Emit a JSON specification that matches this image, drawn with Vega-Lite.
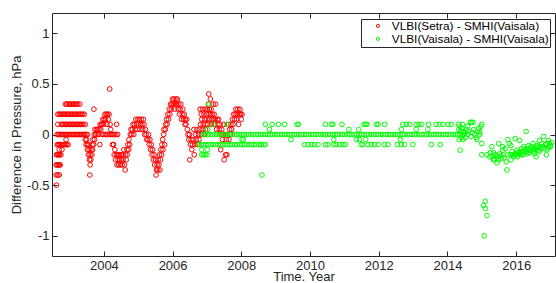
{
"$schema":"https://vega.github.io/schema/vega-lite/v6.json",
"width":503,"height":243,
"autosize":{"type":"none"},
"padding":{"left":52,"top":13,"right":1,"bottom":27},
"background":"white",
"config":{"font":"Liberation Sans","view":{"stroke":null},
"axis":{"grid":false,"domainColor":"#262626","tickColor":"#262626","labelColor":"#262626","titleColor":"#262626","labelFontSize":13,"titleFontSize":13,"titleFontWeight":"normal","tickSize":-5,"domainWidth":1,"tickWidth":1}},
"datasets":{
"setra":[
{"x":2002.62,"y":-0.5},{"x":2002.61,"y":-0.4},{"x":2002.66,"y":-0.4},{"x":2002.70,"y":-0.4},
{"x":2002.61,"y":-0.3},{"x":2002.64,"y":-0.3},{"x":2002.67,"y":-0.3},{"x":2002.70,"y":-0.3},{"x":2002.73,"y":-0.3},
{"x":2002.62,"y":-0.2},{"x":2002.65,"y":-0.2},{"x":2002.68,"y":-0.2},{"x":2002.71,"y":-0.2},{"x":2002.75,"y":-0.2},
{"x":2002.70,"y":-0.15},{"x":2002.78,"y":-0.15},
{"x":2002.64,"y":-0.1},{"x":2002.67,"y":-0.1},{"x":2002.70,"y":-0.1},{"x":2002.73,"y":-0.1},{"x":2002.77,"y":-0.1},{"x":2002.80,"y":-0.1},{"x":2002.84,"y":-0.1},{"x":2002.88,"y":-0.1},{"x":2002.92,"y":-0.1},{"x":2002.96,"y":-0.1},
{"x":2002.90,"y":-0.05},{"x":2002.66,"y":0.1},{"x":2002.66,"y":0.2},{"x":2002.70,"y":0.2},
{"x":2002.88,"y":0.3},{"x":2002.92,"y":0.3},{"x":2002.96,"y":0.3},{"x":2003.00,"y":0.3},{"x":2003.04,"y":0.3},{"x":2003.08,"y":0.3},{"x":2003.12,"y":0.3},{"x":2003.16,"y":0.3},{"x":2003.20,"y":0.3},{"x":2003.24,"y":0.3},{"x":2003.30,"y":0.3},
{"x":2002.74,"y":0.2},{"x":2002.78,"y":0.2},{"x":2002.82,"y":0.2},{"x":2002.86,"y":0.2},{"x":2002.90,"y":0.2},{"x":2002.94,"y":0.2},{"x":2002.98,"y":0.2},{"x":2003.02,"y":0.2},{"x":2003.06,"y":0.2},{"x":2003.10,"y":0.2},{"x":2003.14,"y":0.2},{"x":2003.18,"y":0.2},{"x":2003.22,"y":0.2},{"x":2003.26,"y":0.2},{"x":2003.30,"y":0.2},{"x":2003.34,"y":0.2},{"x":2003.38,"y":0.2},{"x":2003.43,"y":0.2},
{"x":2002.76,"y":0.1},{"x":2002.80,"y":0.1},{"x":2002.84,"y":0.1},{"x":2002.88,"y":0.1},{"x":2002.92,"y":0.1},{"x":2002.96,"y":0.1},{"x":2003.00,"y":0.1},{"x":2003.04,"y":0.1},{"x":2003.08,"y":0.1},{"x":2003.12,"y":0.1},{"x":2003.16,"y":0.1},{"x":2003.20,"y":0.1},{"x":2003.24,"y":0.1},{"x":2003.28,"y":0.1},{"x":2003.32,"y":0.1},{"x":2003.36,"y":0.1},{"x":2003.40,"y":0.1},{"x":2003.46,"y":0.1},
{"x":2002.64,"y":0},{"x":2002.68,"y":0},{"x":2002.72,"y":0},{"x":2002.76,"y":0},{"x":2002.80,"y":0},{"x":2002.84,"y":0},{"x":2002.88,"y":0},{"x":2002.92,"y":0},{"x":2002.96,"y":0},{"x":2003.00,"y":0},{"x":2003.04,"y":0},{"x":2003.08,"y":0},{"x":2003.12,"y":0},{"x":2003.16,"y":0},{"x":2003.20,"y":0},{"x":2003.24,"y":0},{"x":2003.28,"y":0},{"x":2003.32,"y":0},{"x":2003.36,"y":0},{"x":2003.40,"y":0},{"x":2003.44,"y":0},{"x":2003.48,"y":0},{"x":2003.52,"y":0},
{"x":2003.46,"y":-0.05},{"x":2003.48,"y":-0.1},{"x":2003.50,"y":-0.05},{"x":2003.52,"y":-0.1},{"x":2003.52,"y":-0.15},{"x":2003.55,"y":-0.1},{"x":2003.55,"y":-0.2},{"x":2003.57,"y":-0.15},{"x":2003.58,"y":-0.25},{"x":2003.60,"y":-0.2},{"x":2003.60,"y":-0.3},{"x":2003.62,"y":-0.25},{"x":2003.59,"y":-0.4},{"x":2003.63,"y":-0.15},{"x":2003.65,"y":-0.2},{"x":2003.66,"y":-0.1},{"x":2003.67,"y":-0.15},{"x":2003.68,"y":-0.05},{"x":2003.70,"y":-0.1},{"x":2003.71,"y":0.25},{"x":2003.72,"y":0},{"x":2003.73,"y":-0.05},{"x":2003.74,"y":0.05},{"x":2003.76,"y":0},{"x":2003.78,"y":0.05},{"x":2003.80,"y":0},
{"x":2003.82,"y":0.05},{"x":2003.84,"y":0},{"x":2003.86,"y":0.05},{"x":2003.88,"y":-0.1},{"x":2003.89,"y":0.1},{"x":2003.91,"y":0.05},{"x":2003.93,"y":0.1},{"x":2003.95,"y":0.1},{"x":2003.97,"y":0.15},{"x":2003.99,"y":0.1},{"x":2004.01,"y":0.15},{"x":2004.03,"y":0.2},{"x":2004.05,"y":0.15},{"x":2004.07,"y":0.2},{"x":2004.09,"y":0.1},{"x":2004.11,"y":0.2},{"x":2004.13,"y":0.15},{"x":2004.15,"y":0.2},{"x":2004.17,"y":0.45},{"x":2004.18,"y":0.1},{"x":2004.20,"y":0.05},
{"x":2003.95,"y":0},{"x":2004.00,"y":0},{"x":2004.05,"y":0},{"x":2004.10,"y":0},{"x":2004.15,"y":0},{"x":2004.20,"y":0},{"x":2004.25,"y":0},{"x":2004.30,"y":0},{"x":2004.35,"y":0},{"x":2004.40,"y":0},
{"x":2004.25,"y":-0.1},{"x":2004.28,"y":-0.1},{"x":2004.30,"y":-0.2},{"x":2004.32,"y":-0.15},{"x":2004.34,"y":-0.25},{"x":2004.36,"y":-0.2},{"x":2004.37,"y":0.1},{"x":2004.38,"y":-0.3},{"x":2004.40,"y":-0.2},{"x":2004.41,"y":-0.25},{"x":2004.43,"y":-0.3},{"x":2004.45,"y":-0.2},{"x":2004.46,"y":-0.25},{"x":2004.48,"y":-0.3},{"x":2004.50,"y":-0.2},{"x":2004.51,"y":-0.25},{"x":2004.53,"y":-0.3},{"x":2004.55,"y":-0.2},{"x":2004.56,"y":-0.25},{"x":2004.58,"y":-0.15},{"x":2004.60,"y":-0.3},{"x":2004.62,"y":-0.35},{"x":2004.63,"y":-0.2},{"x":2004.65,"y":-0.25},{"x":2004.67,"y":-0.15},{"x":2004.68,"y":-0.2},{"x":2004.70,"y":-0.1},{"x":2004.72,"y":-0.15},{"x":2004.73,"y":-0.05},{"x":2004.75,"y":-0.1},{"x":2004.77,"y":0},
{"x":2004.79,"y":0.05},{"x":2004.81,"y":0},{"x":2004.83,"y":0.05},{"x":2004.85,"y":0.1},{"x":2004.87,"y":0},{"x":2004.89,"y":0.1},{"x":2004.91,"y":0.05},{"x":2004.93,"y":0.15},{"x":2004.95,"y":0.1},{"x":2004.97,"y":0.05},{"x":2004.99,"y":0.15},{"x":2005.01,"y":0.1},{"x":2005.03,"y":0.15},{"x":2005.05,"y":0.05},{"x":2005.07,"y":0.1},{"x":2005.09,"y":0.15},{"x":2005.11,"y":0.1},{"x":2005.13,"y":0.05},{"x":2005.15,"y":0.15},{"x":2005.17,"y":0.1},{"x":2005.19,"y":0},{"x":2005.21,"y":0.05},{"x":2005.23,"y":0},{"x":2005.25,"y":-0.05},
{"x":2005.28,"y":-0.05},{"x":2005.30,"y":0},{"x":2005.32,"y":-0.1},{"x":2005.34,"y":-0.05},{"x":2005.36,"y":-0.15},{"x":2005.38,"y":-0.1},{"x":2005.40,"y":-0.2},{"x":2005.42,"y":-0.15},{"x":2005.44,"y":-0.25},{"x":2005.46,"y":-0.2},{"x":2005.48,"y":-0.3},{"x":2005.50,"y":-0.25},{"x":2005.52,"y":-0.4},{"x":2005.53,"y":-0.35},{"x":2005.55,"y":-0.3},{"x":2005.57,"y":-0.35},{"x":2005.58,"y":-0.25},{"x":2005.60,"y":-0.3},{"x":2005.62,"y":-0.2},{"x":2005.63,"y":-0.35},{"x":2005.65,"y":-0.25},{"x":2005.66,"y":-0.15},{"x":2005.68,"y":-0.2},{"x":2005.69,"y":-0.1},{"x":2005.71,"y":-0.05},{"x":2005.72,"y":-0.15},{"x":2005.74,"y":0},{"x":2005.75,"y":0.05},{"x":2005.77,"y":-0.1},
{"x":2005.79,"y":0.05},{"x":2005.80,"y":0.1},{"x":2005.82,"y":0.15},{"x":2005.84,"y":0.1},{"x":2005.86,"y":0.2},{"x":2005.88,"y":0.15},{"x":2005.90,"y":0.25},{"x":2005.92,"y":0.2},{"x":2005.94,"y":0.3},{"x":2005.96,"y":0.25},{"x":2005.98,"y":0.3},{"x":2006.00,"y":0.35},{"x":2006.02,"y":0.3},{"x":2006.04,"y":0.35},{"x":2006.06,"y":0.25},{"x":2006.08,"y":0.3},{"x":2006.10,"y":0.35},{"x":2006.12,"y":0.3},{"x":2006.14,"y":0.35},{"x":2006.16,"y":0.25},{"x":2006.18,"y":0.3},{"x":2006.20,"y":0.2},{"x":2006.22,"y":0.25},{"x":2006.24,"y":0.3},{"x":2006.26,"y":0.15},{"x":2006.28,"y":0.2},{"x":2006.30,"y":0.25},{"x":2006.32,"y":0.15},{"x":2006.34,"y":0.2},{"x":2006.36,"y":0.1},
{"x":2006.37,"y":0.15},{"x":2006.39,"y":0.1},{"x":2006.41,"y":0.15},{"x":2006.43,"y":0.05},{"x":2006.45,"y":0},{"x":2006.47,"y":-0.05},{"x":2006.49,"y":0},{"x":2006.50,"y":-0.25},{"x":2006.52,"y":-0.1},{"x":2006.54,"y":-0.05},{"x":2006.56,"y":-0.15},{"x":2006.58,"y":-0.1},{"x":2006.60,"y":-0.05},{"x":2006.62,"y":0.05},{"x":2006.63,"y":-0.2},{"x":2006.65,"y":-0.1},{"x":2006.67,"y":0},{"x":2006.69,"y":-0.05},{"x":2006.71,"y":0.05},{"x":2006.73,"y":-0.1},{"x":2006.75,"y":0},{"x":2006.77,"y":-0.05},
{"x":2006.79,"y":0.05},{"x":2006.80,"y":0.25},{"x":2006.81,"y":0.1},{"x":2006.83,"y":0.2},{"x":2006.84,"y":0},{"x":2006.85,"y":0.15},{"x":2006.87,"y":0.25},{"x":2006.88,"y":0.05},{"x":2006.89,"y":0.1},{"x":2006.91,"y":0.2},{"x":2006.92,"y":0},{"x":2006.93,"y":0.15},{"x":2006.95,"y":0.25},{"x":2006.96,"y":0.05},{"x":2006.97,"y":0.1},{"x":2006.99,"y":0.2},{"x":2007.00,"y":0.15},{"x":2007.01,"y":0.25},{"x":2007.03,"y":0.1},{"x":2007.04,"y":0.3},{"x":2007.05,"y":0.4},{"x":2007.06,"y":0.2},{"x":2007.07,"y":0.25},{"x":2007.08,"y":0.15},{"x":2007.10,"y":0.35},{"x":2007.11,"y":0.2},{"x":2007.12,"y":0.25},{"x":2007.13,"y":0.1},{"x":2007.15,"y":0.15},{"x":2007.16,"y":0.2},{"x":2007.18,"y":0.3},{"x":2007.19,"y":0.15},{"x":2007.21,"y":0.2},{"x":2007.22,"y":0.1},{"x":2007.24,"y":0.15},{"x":2007.25,"y":0.3},
{"x":2007.28,"y":0.05},{"x":2007.30,"y":0.15},{"x":2007.32,"y":0.1},{"x":2007.34,"y":0.15},{"x":2007.36,"y":0.05},{"x":2007.38,"y":0.1},{"x":2007.40,"y":-0.15},{"x":2007.41,"y":0},{"x":2007.43,"y":0.05},{"x":2007.45,"y":-0.05},{"x":2007.47,"y":0},{"x":2007.49,"y":0.1},{"x":2007.50,"y":-0.25},{"x":2007.52,"y":0},{"x":2007.54,"y":-0.2},{"x":2007.56,"y":-0.05},{"x":2007.58,"y":-0.2},{"x":2007.60,"y":0},{"x":2007.62,"y":0.1},{"x":2007.64,"y":-0.05},{"x":2007.66,"y":0.05},{"x":2007.68,"y":0},{"x":2007.70,"y":0.1},{"x":2007.72,"y":0.05},{"x":2007.74,"y":0.15},{"x":2007.76,"y":0.1},{"x":2007.78,"y":0.2},{"x":2007.80,"y":0.15},{"x":2007.82,"y":0.2},{"x":2007.84,"y":0.25},{"x":2007.86,"y":0.15},{"x":2007.88,"y":0.2},{"x":2007.90,"y":0.25},{"x":2007.92,"y":0.1},{"x":2007.94,"y":0.2},{"x":2007.96,"y":0.25},{"x":2007.98,"y":0.2},{"x":2008.00,"y":0.15},{"x":2008.02,"y":0.2}
],
"vaisala":[
{"x":2006.88,"y":0},{"x":2006.95,"y":0},{"x":2007.02,"y":0},{"x":2007.09,"y":0},{"x":2007.16,"y":0},{"x":2007.23,"y":0},{"x":2007.30,"y":0},{"x":2007.37,"y":0},{"x":2007.44,"y":0},{"x":2007.51,"y":0},{"x":2007.58,"y":0},{"x":2007.65,"y":0},{"x":2007.72,"y":0},{"x":2007.79,"y":0},{"x":2007.86,"y":0},{"x":2007.93,"y":0},{"x":2008.00,"y":0},{"x":2008.07,"y":0},{"x":2008.14,"y":0},{"x":2008.21,"y":0},{"x":2008.28,"y":0},{"x":2008.35,"y":0},{"x":2008.42,"y":0},{"x":2008.49,"y":0},{"x":2008.56,"y":0},{"x":2008.63,"y":0},{"x":2008.70,"y":0},{"x":2008.77,"y":0},{"x":2008.84,"y":0},{"x":2008.91,"y":0},{"x":2008.98,"y":0},{"x":2009.05,"y":0},{"x":2009.12,"y":0},{"x":2009.19,"y":0},{"x":2009.26,"y":0},{"x":2009.33,"y":0},{"x":2009.40,"y":0},{"x":2009.47,"y":0},{"x":2009.54,"y":0},{"x":2009.61,"y":0},{"x":2009.68,"y":0},{"x":2009.75,"y":0},{"x":2009.82,"y":0},{"x":2009.89,"y":0},{"x":2009.96,"y":0},{"x":2010.03,"y":0},{"x":2010.10,"y":0},{"x":2010.17,"y":0},{"x":2010.24,"y":0},{"x":2010.31,"y":0},{"x":2010.38,"y":0},{"x":2010.45,"y":0},{"x":2010.52,"y":0},{"x":2010.59,"y":0},{"x":2010.66,"y":0},{"x":2010.73,"y":0},{"x":2010.80,"y":0},{"x":2010.87,"y":0},{"x":2010.94,"y":0},{"x":2011.01,"y":0},{"x":2011.08,"y":0},{"x":2011.15,"y":0},{"x":2011.22,"y":0},{"x":2011.29,"y":0},{"x":2011.36,"y":0},{"x":2011.43,"y":0},{"x":2011.50,"y":0},{"x":2011.57,"y":0},{"x":2011.64,"y":0},{"x":2011.71,"y":0},{"x":2011.78,"y":0},{"x":2011.85,"y":0},{"x":2011.92,"y":0},{"x":2011.99,"y":0},{"x":2012.06,"y":0},{"x":2012.13,"y":0},{"x":2012.20,"y":0},{"x":2012.27,"y":0},{"x":2012.34,"y":0},{"x":2012.41,"y":0},{"x":2012.48,"y":0},{"x":2012.55,"y":0},{"x":2012.62,"y":0},{"x":2012.69,"y":0},{"x":2012.76,"y":0},{"x":2012.83,"y":0},{"x":2012.90,"y":0},{"x":2012.97,"y":0},{"x":2013.04,"y":0},{"x":2013.11,"y":0},{"x":2013.18,"y":0},{"x":2013.25,"y":0},{"x":2013.32,"y":0},{"x":2013.39,"y":0},{"x":2013.46,"y":0},{"x":2013.53,"y":0},{"x":2013.60,"y":0},{"x":2013.67,"y":0},{"x":2013.74,"y":0},{"x":2013.81,"y":0},{"x":2013.88,"y":0},{"x":2013.95,"y":0},{"x":2014.02,"y":0},{"x":2014.09,"y":0},{"x":2014.16,"y":0},{"x":2014.23,"y":0},{"x":2014.30,"y":0},{"x":2014.37,"y":0},{"x":2014.44,"y":0},
{"x":2006.76,"y":-0.1},{"x":2006.83,"y":-0.1},{"x":2006.90,"y":-0.1},{"x":2006.97,"y":-0.1},{"x":2007.04,"y":-0.1},{"x":2007.11,"y":-0.1},{"x":2007.18,"y":-0.1},{"x":2007.25,"y":-0.1},{"x":2007.32,"y":-0.1},{"x":2007.39,"y":-0.1},{"x":2007.46,"y":-0.1},{"x":2007.53,"y":-0.1},{"x":2007.60,"y":-0.1},{"x":2007.67,"y":-0.1},{"x":2007.74,"y":-0.1},{"x":2007.81,"y":-0.1},{"x":2007.88,"y":-0.1},{"x":2007.95,"y":-0.1},{"x":2008.02,"y":-0.1},{"x":2008.09,"y":-0.1},{"x":2008.16,"y":-0.1},{"x":2008.23,"y":-0.1},{"x":2008.30,"y":-0.1},{"x":2008.37,"y":-0.1},{"x":2008.44,"y":-0.1},{"x":2008.51,"y":-0.1},{"x":2008.58,"y":-0.1},{"x":2008.65,"y":-0.1},{"x":2008.70,"y":-0.1},
{"x":2006.85,"y":-0.2},{"x":2006.90,"y":-0.2},{"x":2006.95,"y":-0.2},{"x":2007.00,"y":-0.2},{"x":2006.85,"y":-0.15},{"x":2007.01,"y":-0.15},{"x":2007.06,"y":0.3},{"x":2007.02,"y":0.05},{"x":2007.19,"y":0.1},{"x":2007.58,"y":0.1},{"x":2008.02,"y":-0.05},{"x":2008.06,"y":-0.05},{"x":2008.60,"y":-0.4},{"x":2008.70,"y":0.1},{"x":2008.82,"y":0.05},{"x":2008.90,"y":0.1},{"x":2009.08,"y":0.1},
{"x":2009.26,"y":0.1},{"x":2009.62,"y":0.1},{"x":2009.66,"y":0.1},{"x":2010.45,"y":0.1},{"x":2010.62,"y":0.1},{"x":2010.67,"y":0.1},{"x":2010.93,"y":0.1},{"x":2011.57,"y":0.1},{"x":2011.62,"y":0.1},{"x":2011.66,"y":0.1},{"x":2011.93,"y":0.1},{"x":2011.98,"y":0.1},{"x":2012.17,"y":0.1},{"x":2012.70,"y":0.1},{"x":2012.80,"y":0.1},{"x":2012.90,"y":0.1},{"x":2013.09,"y":0.1},{"x":2013.17,"y":0.1},{"x":2013.25,"y":0.1},{"x":2013.45,"y":0.1},{"x":2013.67,"y":0.1},{"x":2013.77,"y":0.1},{"x":2013.87,"y":0.1},{"x":2014.02,"y":0.1},{"x":2014.11,"y":0.1},
{"x":2011.13,"y":0.05},{"x":2011.42,"y":0.05},{"x":2012.66,"y":0.05},{"x":2013.09,"y":0.05},{"x":2013.43,"y":0.05},
{"x":2009.45,"y":-0.05},{"x":2010.69,"y":-0.05},{"x":2011.35,"y":-0.05},{"x":2011.44,"y":-0.05},{"x":2011.62,"y":-0.05},{"x":2012.63,"y":-0.05},
{"x":2009.84,"y":-0.1},{"x":2009.94,"y":-0.1},{"x":2010.04,"y":-0.1},{"x":2010.13,"y":-0.1},{"x":2010.23,"y":-0.1},{"x":2010.45,"y":-0.1},{"x":2010.52,"y":-0.1},{"x":2010.69,"y":-0.1},{"x":2010.76,"y":-0.1},{"x":2010.86,"y":-0.1},{"x":2010.96,"y":-0.1},{"x":2011.03,"y":-0.1},{"x":2011.49,"y":-0.1},{"x":2011.54,"y":-0.1},{"x":2011.69,"y":-0.1},{"x":2011.78,"y":-0.1},{"x":2011.88,"y":-0.1},{"x":2011.98,"y":-0.1},{"x":2012.17,"y":-0.1},{"x":2012.27,"y":-0.1},{"x":2012.54,"y":-0.1},{"x":2012.66,"y":-0.1},{"x":2012.75,"y":-0.1},{"x":2012.99,"y":-0.1},{"x":2013.53,"y":-0.1},{"x":2013.79,"y":-0.1},
{"x":2014.32,"y":0.1},{"x":2014.33,"y":0.05},{"x":2014.34,"y":-0.05},{"x":2014.36,"y":0.08},{"x":2014.37,"y":-0.155},{"x":2014.38,"y":0.03},{"x":2014.40,"y":-0.03},{"x":2014.42,"y":0.06},{"x":2014.44,"y":0.1},{"x":2014.45,"y":-0.05},{"x":2014.46,"y":0.03},{"x":2014.48,"y":0},
{"x":2014.50,"y":0.02},{"x":2014.52,"y":-0.03},{"x":2014.55,"y":0.05},{"x":2014.58,"y":0.08},{"x":2014.60,"y":0},{"x":2014.62,"y":0.03},{"x":2014.66,"y":0.12},{"x":2014.70,"y":0.12},{"x":2014.74,"y":0.12},{"x":2014.68,"y":-0.02},{"x":2014.72,"y":0.02},{"x":2014.76,"y":0.05},{"x":2014.80,"y":0},{"x":2014.84,"y":-0.03},{"x":2014.86,"y":-0.05},{"x":2014.88,"y":0.03},{"x":2014.90,"y":0.06},{"x":2014.93,"y":0},{"x":2014.95,"y":0.02},{"x":2014.97,"y":0.08},{"x":2015.00,"y":0.1},{"x":2015.00,"y":-0.09},{"x":2015.00,"y":-0.2},
{"x":2015.10,"y":-0.66},{"x":2015.05,"y":-0.7},{"x":2015.10,"y":-0.73},{"x":2015.15,"y":-0.8},{"x":2015.07,"y":-1.0},
{"x":2015.15,"y":-0.2},{"x":2015.25,"y":-0.18},{"x":2015.29,"y":-0.12},{"x":2015.23,"y":-0.22},{"x":2015.34,"y":-0.18},{"x":2015.34,"y":-0.25},{"x":2015.39,"y":-0.2},{"x":2015.44,"y":-0.28},{"x":2015.46,"y":-0.22},{"x":2015.49,"y":-0.09},{"x":2015.52,"y":-0.19},{"x":2015.56,"y":-0.24},{"x":2015.60,"y":-0.12},{"x":2015.61,"y":-0.155},{"x":2015.63,"y":-0.2},{"x":2015.68,"y":-0.14},{"x":2015.71,"y":-0.27},{"x":2015.73,"y":-0.35},{"x":2015.76,"y":-0.05},{"x":2015.80,"y":-0.09},{"x":2015.85,"y":-0.11},{"x":2015.83,"y":-0.2},{"x":2015.88,"y":-0.17},{"x":2015.92,"y":-0.22},{"x":2015.97,"y":-0.04},{"x":2015.97,"y":-0.19},{"x":2016.02,"y":-0.155},{"x":2016.04,"y":-0.22},{"x":2016.10,"y":-0.06},{"x":2016.12,"y":-0.17},{"x":2016.15,"y":-0.14},{"x":2016.17,"y":-0.2},{"x":2016.22,"y":-0.12},{"x":2016.24,"y":-0.17},{"x":2016.29,"y":0.03},{"x":2016.29,"y":-0.14},{"x":2016.33,"y":-0.19},{"x":2016.36,"y":-0.11},{"x":2016.41,"y":-0.155},{"x":2016.43,"y":-0.12},{"x":2016.49,"y":-0.09},{"x":2016.51,"y":-0.17},{"x":2016.55,"y":-0.12},{"x":2016.58,"y":-0.22},{"x":2016.60,"y":-0.11},{"x":2016.65,"y":-0.155},{"x":2016.68,"y":-0.06},{"x":2016.70,"y":-0.12},{"x":2016.75,"y":-0.09},{"x":2016.80,"y":-0.02},{"x":2016.82,"y":-0.14},{"x":2016.88,"y":-0.2},{"x":2016.89,"y":-0.09},{"x":2016.94,"y":-0.06},{"x":2016.94,"y":-0.13},{"x":2016.99,"y":-0.11},
{"x":2015.95,"y":-0.2},{"x":2016.00,"y":-0.2},{"x":2016.05,"y":-0.18},{"x":2016.08,"y":-0.2},{"x":2016.13,"y":-0.19},{"x":2016.18,"y":-0.17},{"x":2016.20,"y":-0.2},{"x":2016.26,"y":-0.15},{"x":2016.30,"y":-0.17},{"x":2016.35,"y":-0.15},{"x":2016.38,"y":-0.18},{"x":2016.45,"y":-0.13},{"x":2016.50,"y":-0.14},{"x":2016.53,"y":-0.19},{"x":2016.57,"y":-0.15},{"x":2016.62,"y":-0.13},{"x":2016.67,"y":-0.17},{"x":2016.72,"y":-0.14},{"x":2016.77,"y":-0.12},{"x":2016.85,"y":-0.1},{"x":2016.90,"y":-0.15},{"x":2016.97,"y":-0.09},{"x":2017.00,"y":-0.12},{"x":2017.03,"y":-0.08},{"x":2015.30,"y":-0.22},{"x":2015.36,"y":-0.24},{"x":2015.42,"y":-0.21},{"x":2015.48,"y":-0.25},{"x":2015.55,"y":-0.21},{"x":2015.65,"y":-0.23},{"x":2015.75,"y":-0.2},{"x":2015.85,"y":-0.25},{"x":2015.90,"y":-0.2}
]},
"layer":[
{"data":{"name":"setra"},
"mark":{"type":"point","filled":false,"strokeWidth":1,"size":22,"opacity":1},
"encoding":{
"x":{"field":"x","type":"quantitative","scale":{"domain":[2002.49,2017.13],"nice":false,"zero":false},
"axis":{"orient":"bottom","values":[2004,2006,2008,2010,2012,2014,2016],"format":"d","labelPadding":8,"title":"Time. Year","titlePadding":-2}},
"y":{"field":"y","type":"quantitative","scale":{"domain":[-1.2,1.2],"nice":false,"zero":false},
"axis":{"orient":"left","values":[-1,-0.5,0,0.5,1],"labelExpr":"datum.value + ''","labelPadding":8,"title":"Difference in Pressure, hPa","titlePadding":3}},
"color":{"datum":"VLBI(Setra) - SMHI(Vaisala)","type":"nominal",
"scale":{"domain":["VLBI(Setra) - SMHI(Vaisala)","VLBI(Vaisala) - SMHI(Vaisala)"],"range":["#ff0000","#00ff00"]},
"legend":{"orient":"none","legendX":309,"legendY":6,"title":null,"fillColor":"white","strokeColor":"#262626","padding":1,"labelFontSize":11.8,"labelLimit":400,"labelColor":"#000000","symbolType":"circle","symbolSize":10,"symbolStrokeWidth":1,"rowPadding":0,"symbolOffset":10,"labelOffset":8}}}},
{"data":{"name":"vaisala"},
"mark":{"type":"point","filled":false,"strokeWidth":1,"size":22,"opacity":1},
"encoding":{
"x":{"field":"x","type":"quantitative","axis":{"orient":"top","values":[2004,2006,2008,2010,2012,2014,2016],"labels":false,"title":null}},
"y":{"field":"y","type":"quantitative","axis":{"orient":"right","values":[-1,-0.5,0,0.5,1],"labels":false,"title":null}},
"color":{"datum":"VLBI(Vaisala) - SMHI(Vaisala)","type":"nominal"}}}
],
"resolve":{"axis":{"x":"independent","y":"independent"}}
}
